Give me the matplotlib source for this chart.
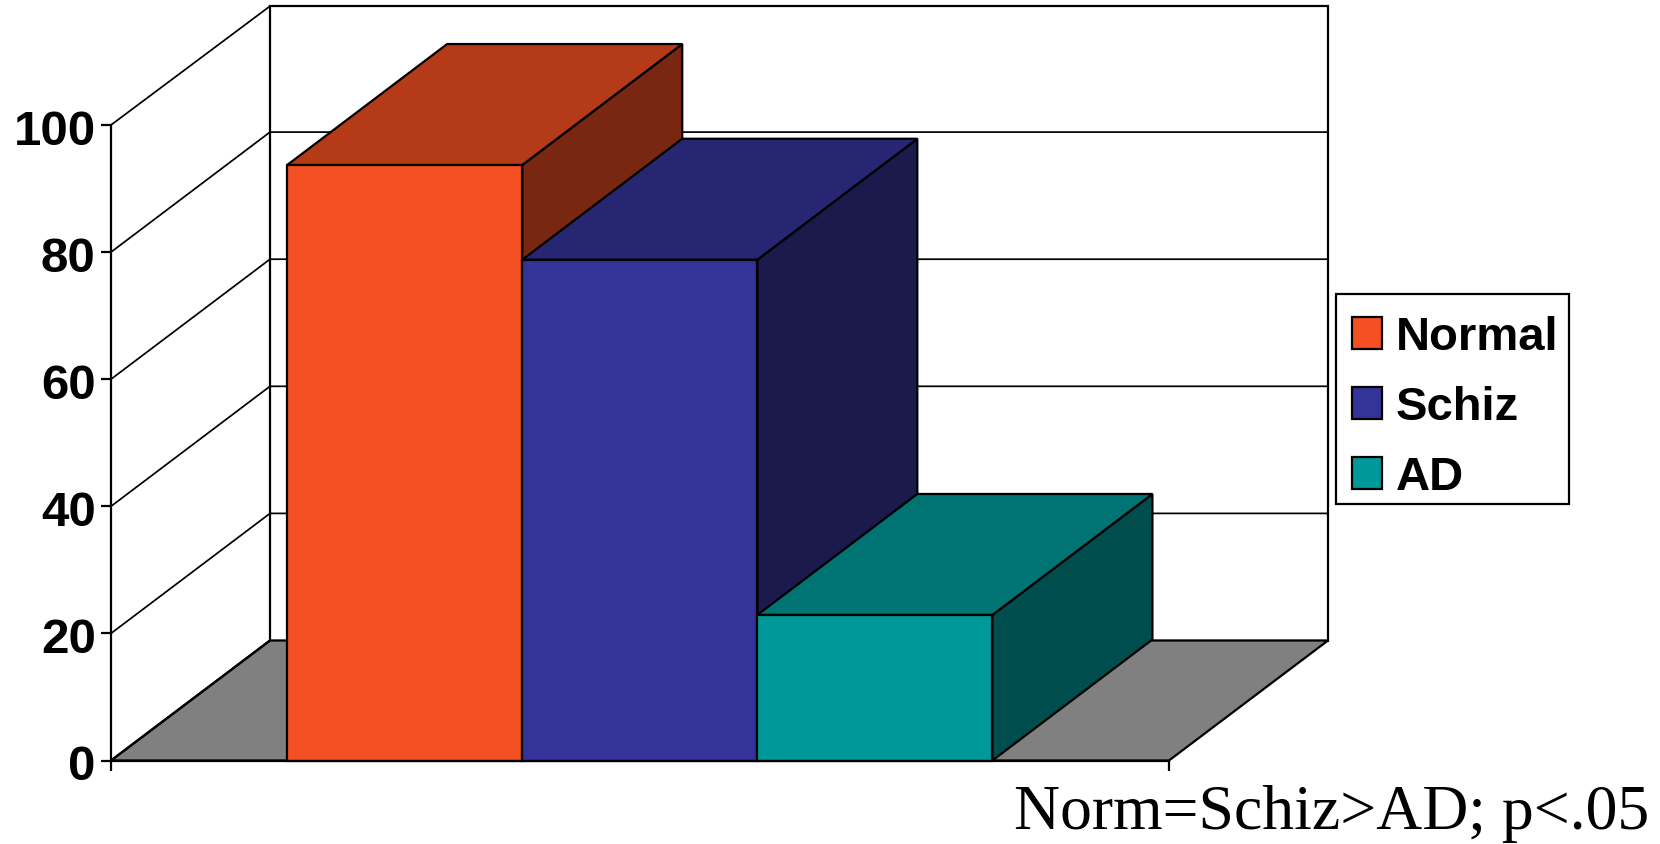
import matplotlib
matplotlib.use('Agg')
import matplotlib.pyplot as plt
from matplotlib.patches import Patch, Rectangle
from matplotlib.transforms import ScaledTranslation

groups = ['Normal', 'Schiz', 'AD']
values = [93.7, 78.8, 22.9]
front_colors = ['#F55023', '#333399', '#009999']
top_colors = ['#B53A18', '#262673', '#007373']
side_colors = ['#7A2711', '#1A1A4D', '#004D4D']
yticks = [0, 20, 40, 60, 80, 100]
note = 'Norm=Schiz>AD; p<.05'

W, H = 1660, 844
fig = plt.figure(figsize=(W / 100, H / 100), dpi=100)
ax = fig.add_axes([111 / W, (H - 760.5) / H, 1058 / W, 635.5 / H])
ax.set_xlim(0, 1)
ax.set_ylim(0, 100)

# depth of the fake 3d box, in data units (bars stick out a touch further than the wall)
dx = 159 / 1058
dy = 120 / 6.355
bar_dx = 160 / 1058
bar_dy = 121 / 6.355
wall_top = 118.7
lw_thin = 1.25
lw_edge = 1.6

# back wall and floor
ax.fill([dx, 1 + dx, 1 + dx, dx], [dy, dy, wall_top, wall_top], fc='white', ec='black',
        lw=lw_edge, clip_on=False, zorder=1)
ax.fill([0, 1, 1 + dx, dx], [0, 0, dy, dy], fc='#808080', ec='black', lw=lw_edge,
        clip_on=False, zorder=1)
ax.plot([0, dx], [100, wall_top], color='black', lw=lw_thin, clip_on=False, zorder=2)

# gridlines run along the side wall, then across the back
for t in yticks[1:-1]:
    ax.plot([0, dx, 1 + dx], [t, t + dy, t + dy], color='black', lw=lw_thin,
            clip_on=False, zorder=2)
ax.plot([0, dx], [0, dy], color='black', lw=lw_edge, clip_on=False, zorder=2)

# bars, left to right so each one covers the previous side face
bar_w = 0.2222
x0 = 0.1665
for i, (v, fc, tc, sc) in enumerate(zip(values, front_colors, top_colors, side_colors)):
    l = x0 + i * bar_w
    r = l + bar_w
    z = 3 + i
    ax.fill([r, r + bar_dx, r + bar_dx, r], [0, bar_dy, v + bar_dy, v], fc=sc, ec='black',
            lw=lw_edge, clip_on=False, zorder=z)
    ax.fill([l, r, r + bar_dx, l + bar_dx], [v, v, v + bar_dy, v + bar_dy], fc=tc, ec='black',
            lw=lw_edge, clip_on=False, zorder=z)
    ax.bar(l, v, width=bar_w, align='edge', color=fc, edgecolor='black', lw=lw_edge,
           clip_on=False, zorder=z)

for s in ['top', 'right']:
    ax.spines[s].set_visible(False)
for s in ['left', 'bottom']:
    ax.spines[s].set_linewidth(1.6)
    ax.spines[s].set_zorder(10)

ax.set_yticks(yticks)
ax.set_yticklabels([str(t) for t in yticks], family='Liberation Sans', fontweight='bold',
                   fontsize=35.5)
ax.set_xticks([0, 1])
ax.set_xticklabels(['', ''])
ax.tick_params(axis='both', length=7, width=1.6, pad=4, color='black')
shift = ScaledTranslation(0, -1.5 / 72, fig.dpi_scale_trans)
for lab in ax.get_yticklabels():
    lab.set_transform(lab.get_transform() + shift)

# frame drawn by hand, the legend padding is not even top and bottom
fig.add_artist(Rectangle((1336 / W, 1 - 504 / H), 233 / W, 210 / H, transform=fig.transFigure,
                         fc='white', ec='black', lw=1.6, zorder=5))
handles = [Patch(fc=c, ec='black', lw=1.6) for c in front_colors]
leg = fig.legend(handles, groups, loc='upper left', bbox_to_anchor=(1338 / W, 1 - 301.5 / H),
                 borderaxespad=0, frameon=False,
                 handlelength=0.64, handleheight=0.64, handletextpad=0.28,
                 labelspacing=0.55, borderpad=0.3,
                 prop=dict(family='Liberation Sans', weight='bold', size=34))
leg.set_zorder(6)

fig.text(1649 / W, 1 - 829 / H, note, ha='right', va='baseline',
         family='Liberation Serif', fontsize=45.9)

fig.savefig('out.png', dpi=100)
